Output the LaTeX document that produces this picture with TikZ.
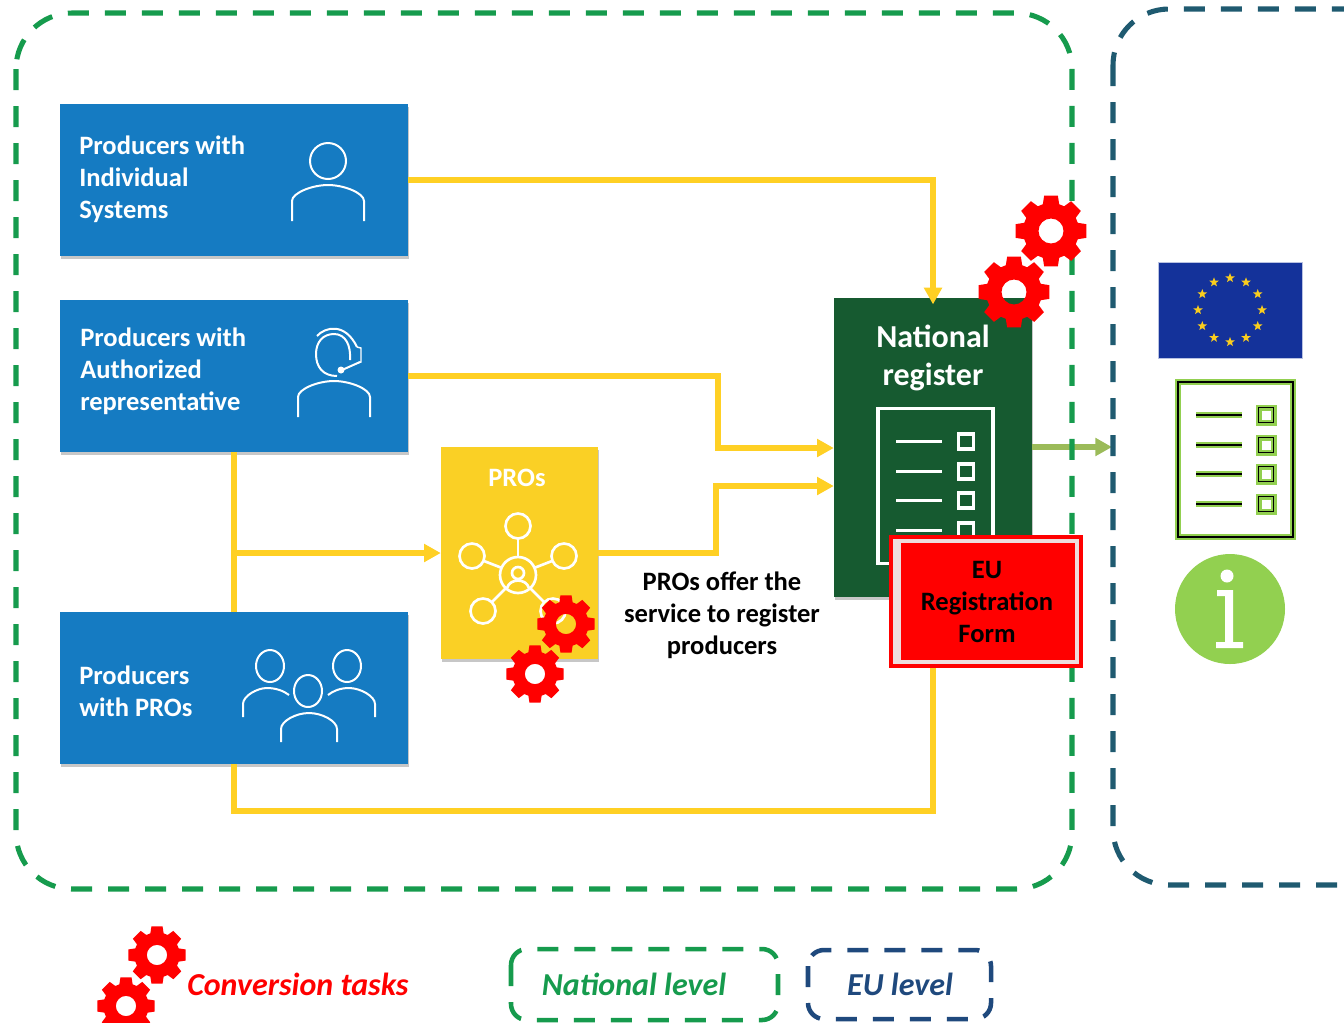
\documentclass[tikz,border=0pt]{standalone}
\usepackage{fontspec}
\setmainfont{Carlito}
\usepackage{tikz}
\usetikzlibrary{arrows.meta,calc,shadows,shapes.geometric}
\definecolor{problue}{RGB}{21, 123, 194}
\definecolor{prosyellow}{RGB}{250, 208, 37}
\definecolor{lineyellow}{RGB}{255, 208, 36}
\definecolor{registergreen}{RGB}{22, 90, 48}
\definecolor{natgreen}{RGB}{22, 155, 77}
\definecolor{euteal}{RGB}{31, 90, 112}
\definecolor{eunavy}{RGB}{31, 73, 125}
\definecolor{flagblue}{RGB}{20, 50, 154}
\definecolor{stargold}{RGB}{250, 205, 30}
\definecolor{olive}{RGB}{155, 187, 89}
\definecolor{infogreen}{RGB}{146, 208, 80}
\definecolor{gearred}{RGB}{255, 0, 0}
\definecolor{framepink}{RGB}{238, 221, 221}
\tikzset{
  softshadow/.style={drop shadow={shadow xshift=0.8pt,shadow yshift=-2pt,fill=black,opacity=0.22}},
  probox/.style={fill=problue, softshadow, minimum width=261pt, minimum height=114pt, inner sep=0pt},
  boldtext/.style={font=\fontsize{19.9}{24}\selectfont\bfseries},
  protext/.style={boldtext, align=left, text=white, anchor=west, inner sep=0pt},
  conn/.style={draw=lineyellow, line width=3.8pt},
  connarrow/.style={conn, -{Triangle[length=12.5pt,width=13pt]}},
  levelframe/.style={dash pattern=on 15.75pt off 12pt, line width=3.8pt, rounded corners=42pt},
  legendframe/.style={dash pattern=on 15.75pt off 12pt, line width=3.4pt, rounded corners=12pt},
  icon/.style={draw=white, line width=1.5pt},
  legendtext/.style={font=\fontsize{24}{24}\selectfont\bfseries\itshape},
  pics/shoulders/.style={code={
    \draw[icon] (-36,36) -- (-36,16) .. controls (-36,8) and (-16,0) .. (0,0) .. controls (16,0) and (36,8) .. (36,16) -- (36,36);}},
  pics/gearwheel/.style={code={
    \fill[gearred, even odd rule] (-11:36) \foreach \a in {0,45,...,315} { -- (\a-11:36) -- (\a+11:36) -- (\a+17:28) -- (\a+28:28) } -- cycle
      (0,0) circle (12.5);}},
  pics/formrows/.style 2 args={code={
    \draw[draw=#1, line width=#2] (0,0) rectangle (115,155);
    \foreach \y in {33,63,92,122}{
      \draw[draw=#1, line width=#2] (18,\y) -- (64,\y);
      \draw[draw=#1, line width=#2] (80.5,\y-7.5) rectangle (95.5,\y+7.5);
    }}},
}
\begin{document}
\begin{tikzpicture}[x=0.75pt,y=-0.75pt]
  \useasboundingbox (0,0) rectangle (1344,1022);

  % producer boxes
  \node[probox] (indiv) at (234,180) {};
  \node[probox] (auth)  at (234,376) {};
  \node[probox] (group) at (234,688) {};
  \node[protext] (indivtext) at (79,179) {Producers with\\Individual\\Systems};
  \node[protext] (authtext)  at (80,371) {Producers with\\Authorized\\representative};
  \node[protext] (grouptext) at (79,691) {Producers\\with PROs};
  \node[fill=prosyellow, softshadow, minimum width=117.75pt, minimum height=159pt, inner sep=0pt] (pros) at (519.5,553) {};
  \node[fill=registergreen, softshadow, minimum width=148.5pt, minimum height=224.25pt, inner sep=0pt] (register) at (933,447.5) {};

  % connectors
  \draw[connarrow, shorten >=-5pt] (indiv.east) -| (register.north);
  \coordinate (authin) at (register.west |- 0,448);
  \coordinate (prosin) at (register.west |- 0,486);
  \draw[connarrow] (auth.east) -- (718,376) |- (authin);
  \draw[connarrow] (pros.east) -- (pros.east -| 716,0) |- (prosin);
  \draw[conn] (auth.south) -- (group.north);
  \coordinate (branch) at (auth.south |- pros.west);
  \draw[connarrow] (branch) -- (pros.west);
  \draw[conn] (group.south) -- (234,811) -| (register.south);
  \coordinate (euin) at (1112,447);
  \draw[draw=olive, line width=3.8pt, -{Triangle[length=12.5pt,width=13pt]}] (register.east |- euin) -- (euin);

  % level frames
  \draw[levelframe, natgreen] (16,13) rectangle (1072,889);
  \draw[levelframe, euteal] (1113,9) rectangle (1420,885);

  % icons in the blue boxes
  \draw[icon] (328,161) circle (18);
  \pic at (328,185) {shoulders};
  \pic at (334,381) {shoulders};
  \draw[icon] (337,376) .. controls (323,376) and (316,367) .. (316,354) .. controls (316,342) and (323,334) .. (334,334) .. controls (346,334) and (351,346) .. (350,360);
  \draw[icon] (317,336) .. controls (325,327) and (345,322) .. (357,347);
  \draw[icon, line width=1.1pt] (357,347) -- (361,348) -- (361,362) -- (357,363);
  \draw[icon] (360,362) -- (342,370);
  \fill[white] (341,370) circle (3.5);
  \draw[icon] (270,666) ellipse (14 and 16);
  \draw[icon] (308,691) ellipse (14 and 16);
  \draw[icon] (347,666) ellipse (14 and 16);
  \draw[icon] (243,717) -- (243,704) .. controls (243,696) and (257,688) .. (267,688) .. controls (276,688) and (284,691) .. (289,695);
  \draw[icon] (328,695) .. controls (333,691) and (340,688) .. (349,688) .. controls (360,688) and (375,696) .. (375,704) -- (375,717);
  \draw[icon] (281,742) -- (281,729) .. controls (281,721) and (296,713) .. (309,713) .. controls (322,713) and (337,721) .. (337,729) -- (337,742);

  % icon in the PROs box
  \node[boldtext, text=white] (proslabel) at (517,478) {PROs};
  \draw[icon, line width=2pt] (518,575) circle (18);
  \draw[icon, line width=2pt] (518,573) circle (6);
  \draw[icon, line width=2pt] (507,588) .. controls (510,578) and (526,578) .. (529,588);
  \foreach \x/\y in {518/526, 472/556, 564/556, 483/611, 553/611}
    \draw[icon, line width=2pt] (\x,\y) circle (12.5);
  \draw[icon, line width=2pt] (518,538.5) -- (518,557);
  \draw[icon, line width=2pt] (484,561) -- (502,568);
  \draw[icon, line width=2pt] (552,561) -- (534,568);
  \draw[icon, line width=2pt] (492,602) -- (506,588);
  \draw[icon, line width=2pt] (544,602) -- (530,588);

  % register box content
  \node[text=white, align=center, font=\fontsize{24}{28.5}\selectfont\bfseries] (registerlabel) at (933,358) {National\\register};
  \pic at (878,408.5) {formrows={white}{2.6pt}};

  % EU form on top
  \node[draw=gearred, line width=3pt, fill=framepink, minimum width=142.5pt, minimum height=96.75pt, inner sep=0pt] (formframe) at (986,601.5) {};
  \node[fill=gearred, minimum width=130.5pt, minimum height=87.75pt, inner sep=0pt] (euform) at (988,601.5) {};
  \node[boldtext, align=center] (euformtext) at (987,602) {EU\\Registration\\Form};

  % text
  \node[boldtext, align=center] (proscaption) at (722,615) {PROs offer the\\service to register\\producers};

  % EU column
  \node[fill=flagblue, draw=flagblue!30, line width=0.5pt, minimum width=108pt, minimum height=72pt, inner sep=0pt] (flag) at (1230,310) {};
  \foreach \a in {0,30,...,330}
    \node[star, star points=5, star point ratio=2.4, fill=stargold, minimum size=7.5pt, inner sep=0pt] (star\a) at ($(1230,310)+(\a:32)$) {};
  \pic at (1178,382) {formrows={infogreen}{4.5pt}};
  \pic at (1178,382) {formrows={black}{1pt}};
  \node[circle, fill=infogreen, minimum size=82.5pt, inner sep=0pt] (info) at (1230,609) {};
  \fill[white] (1227,576) circle (6.5);
  \fill[white] (1217,590) -- (1233,590) -- (1233,642) -- (1243,642) -- (1243,648) -- (1216,648) -- (1216,642) -- (1225,642) -- (1225,596) -- (1217,596) -- cycle;

  % gears
  \pic at (1051,231) {gearwheel};
  \pic at (1014,292) {gearwheel};
  \pic[scale=0.81] at (566,624) {gearwheel};
  \pic[scale=0.81] at (535,674) {gearwheel};
  \pic[scale=0.81] at (157,955) {gearwheel};
  \pic[scale=0.81] at (126,1006) {gearwheel};

  % legend
  \node[legendtext, text=gearred, anchor=west, inner sep=0pt] (convlabel) at (187,984) {Conversion tasks};
  \draw[legendframe, natgreen] (511,949) rectangle (778,1020);
  \node[legendtext, text=natgreen] (natlabel) at (634,984) {National level};
  \draw[legendframe, eunavy] (808,950) rectangle (991,1019);
  \node[legendtext, text=eunavy] (eulabel) at (900,984) {EU level};
\end{tikzpicture}
\end{document}
